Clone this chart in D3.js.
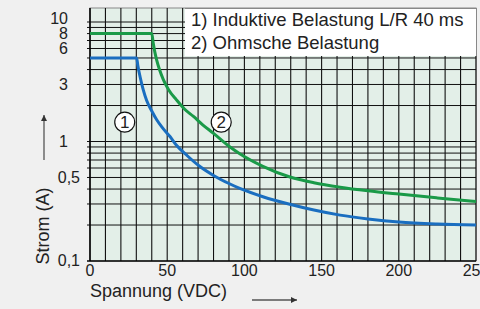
<!DOCTYPE html>
<html>
<head>
<meta charset="utf-8">
<script src="https://cdn.jsdelivr.net/npm/d3@7"></script>
<style>
	body { margin: 0; background: #f0f0f0; }
	text { font-family: "Liberation Sans", Arial, sans-serif; fill: #222; }
</style>
</head>
<body>
<div id="chart"></div>
<script>
// Kennlinie 1: induktive Last (blau), Kennlinie 2: ohmsche Last (gruen)
const voltInductive = [0, 30.2, 31, 32.4, 34.5, 36.7, 40, 43.2, 47, 51.8, 56, 63, 71, 80, 90, 97, 112, 130, 145, 162, 180, 200, 225, 250];
const ampInductive  = [5, 5, 4.3, 3.5, 2.7, 2.2, 1.8, 1.52, 1.3, 1.1, 0.93, 0.76, 0.62, 0.52, 0.445, 0.405, 0.345, 0.297, 0.267, 0.242, 0.225, 0.212, 0.204, 0.2];
const voltOhmic = [0, 40, 41, 42, 43.2, 45, 47.5, 51, 56, 61, 67, 73, 80, 90.7, 97, 112, 129.5, 145, 162, 180, 200, 225, 250];
const ampOhmic  = [8, 8, 6.6, 5.6, 4.8, 4, 3.3, 2.7, 2.23, 1.88, 1.62, 1.38, 1.17, 0.9, 0.79, 0.62, 0.505, 0.452, 0.415, 0.387, 0.363, 0.337, 0.314];

const xTicks = [0, 50, 100, 150, 200, 250];
const yTicks = [0.1, 0.5, 1, 3, 6, 8, 10];
const yTickLabels = ["0,1", "0,5", "1", "3", "6", "8", "10"];
const legendLines = ["1) Induktive Belastung L/R 40 ms", "2) Ohmsche Belastung"];
const curveMarks = [{ label: "1", v: 22.5, a: 1.45 }, { label: "2", v: 85, a: 1.45 }];

const width = 480, height = 309;
const plotLeft = 90, plotRight = 476, plotTop = 8, plotBottom = 261;

const x = d3.scaleLinear().domain([0, 250]).range([plotLeft, plotRight]);
const y = d3.scaleLog().domain([0.1, 10]).range([plotBottom, 22]);

const svg = d3.select("#chart").append("svg")
	.attr("width", width)
	.attr("height", height);

// plot area
svg.append("rect")
	.attr("x", plotLeft).attr("y", plotTop)
	.attr("width", plotRight - plotLeft).attr("height", plotBottom - plotTop)
	.attr("fill", "#e3efe8")
	.attr("stroke", "#888").attr("stroke-width", 1);

// grid
const vGrid = d3.range(0, 251, 10);
svg.append("g").selectAll("line").data(vGrid).enter().append("line")
	.attr("x1", (d) => x(d)).attr("x2", (d) => x(d))
	.attr("y1", plotTop).attr("y2", plotBottom)
	.attr("stroke", "#111").attr("stroke-width", 1.1);

const hGrid = [];
[0.1, 1].forEach((dec) => {
	for (let k = 1; k <= 9; k++) hGrid.push(+(dec * k).toFixed(2));
});
hGrid.push(10);
svg.append("g").selectAll("line").data(hGrid).enter().append("line")
	.attr("x1", plotLeft - 3).attr("x2", plotRight)
	.attr("y1", (d) => y(d)).attr("y2", (d) => y(d))
	.attr("stroke", "#111").attr("stroke-width", 1);

// axes
svg.append("line").attr("x1", plotLeft).attr("x2", plotLeft).attr("y1", plotTop).attr("y2", plotBottom)
	.attr("stroke", "#000").attr("stroke-width", 1.2);
svg.append("line").attr("x1", plotLeft - 3).attr("x2", plotRight).attr("y1", plotBottom).attr("y2", plotBottom)
	.attr("stroke", "#000").attr("stroke-width", 1.2);

// curves
const line = d3.line()
	.x((d) => x(d[0]))
	.y((d) => y(d[1]))
	.curve(d3.curveMonotoneX);

svg.append("path")
	.datum(d3.zip(voltOhmic, ampOhmic))
	.attr("d", line)
	.attr("fill", "none")
	.attr("stroke", "#1a9a48")
	.attr("stroke-width", 3);

svg.append("path")
	.datum(d3.zip(voltInductive, ampInductive))
	.attr("d", line)
	.attr("fill", "none")
	.attr("stroke", "#1a6ec0")
	.attr("stroke-width", 3);

// circled numbers
const marks = svg.append("g").selectAll("g").data(curveMarks).enter().append("g")
	.attr("transform", (d) => `translate(${x(d.v)},${y(d.a)})`);
marks.append("circle").attr("r", 10)
	.attr("fill", "#fff").attr("stroke", "#111").attr("stroke-width", 1.2);
marks.append("text").attr("text-anchor", "middle").attr("dy", "0.36em")
	.attr("font-size", 17).text((d) => d.label);

// legend
svg.append("rect")
	.attr("x", 185).attr("y", plotTop)
	.attr("width", plotRight + 1 - 185).attr("height", 48)
	.attr("fill", "#fff");
svg.append("line").attr("x1", plotRight + 0.5).attr("x2", plotRight + 0.5).attr("y1", plotTop).attr("y2", plotTop + 48)
	.attr("stroke", "#888");
svg.append("line").attr("x1", 185).attr("x2", plotRight + 1).attr("y1", plotTop + 0.5).attr("y2", plotTop + 0.5)
	.attr("stroke", "#888");
svg.append("g").selectAll("text").data(legendLines).enter().append("text")
	.attr("x", 191)
	.attr("y", (d, i) => 26 + i * 22.5)
	.attr("font-size", 18.5)
	.text((d) => d);

// tick labels
svg.append("g").selectAll("text").data(xTicks).enter().append("text")
	.attr("x", (d) => x(d))
	.attr("y", 276)
	.attr("text-anchor", "middle")
	.attr("font-size", 16)
	.text((d) => d);

svg.append("g").selectAll("text").data(yTicks).enter().append("text")
	.attr("x", (d, i) => yTickLabels[i].includes(",") ? 80 : 68)
	.attr("y", (d) => y(d) - (d === 10 ? 3 : 0))
	.attr("dy", "0.33em")
	.attr("text-anchor", "end")
	.attr("font-size", 16)
	.text((d, i) => yTickLabels[i]);

// axis titles with arrows
svg.append("text")
	.attr("x", 90).attr("y", 297)
	.attr("font-size", 18)
	.text("Spannung (VDC)");

svg.append("text")
	.attr("transform", "translate(49,226) rotate(-90)")
	.attr("text-anchor", "middle")
	.attr("font-size", 18)
	.text("Strom (A)");

svg.append("defs").append("marker")
	.attr("id", "arr").attr("viewBox", "0 0 10 10")
	.attr("refX", 10).attr("refY", 5)
	.attr("markerWidth", 8).attr("markerHeight", 6)
	.attr("markerUnits", "userSpaceOnUse")
	.attr("orient", "auto")
	.append("path").attr("d", "M0,0 L10,5 L0,10 z").attr("fill", "#333");

svg.append("line").attr("x1", 252).attr("x2", 297).attr("y1", 300).attr("y2", 300)
	.attr("stroke", "#555").attr("stroke-width", 1.3).attr("marker-end", "url(#arr)");
svg.append("line").attr("x1", 44).attr("x2", 44).attr("y1", 160).attr("y2", 115)
	.attr("stroke", "#555").attr("stroke-width", 1.3).attr("marker-end", "url(#arr)");
</script>
</body>
</html>
